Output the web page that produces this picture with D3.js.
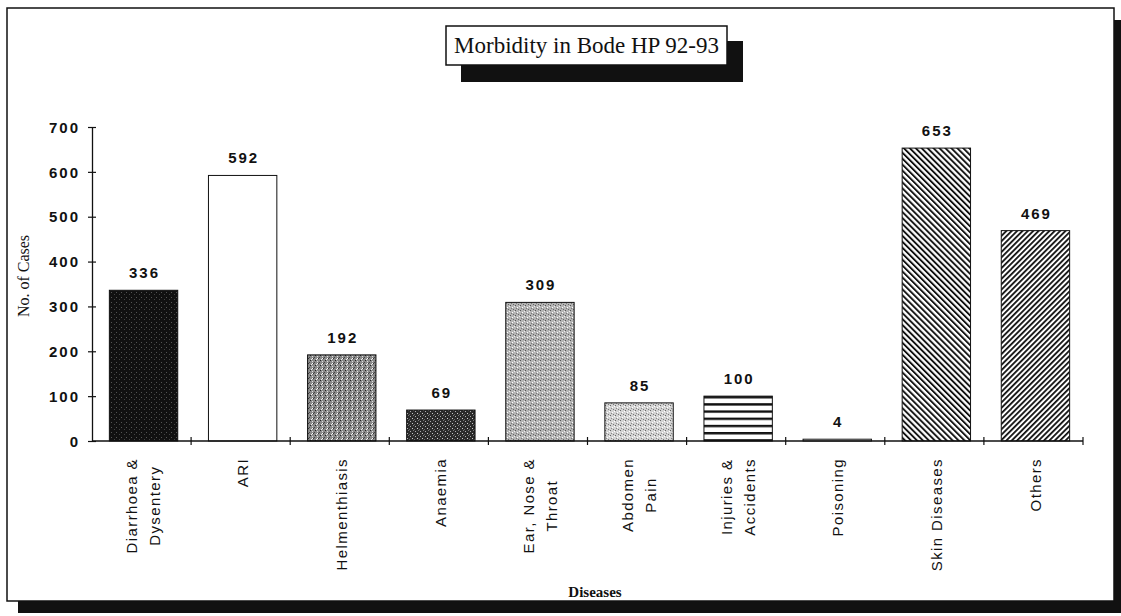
<!DOCTYPE html>
<html>
<head>
<meta charset="utf-8">
<script src="https://cdn.jsdelivr.net/npm/d3@7/dist/d3.min.js"></script>
<style>
  html, body { margin: 0; padding: 0; background: #fff; }
  svg { display: block; }
</style>
</head>
<body>
<svg id="chart" width="1121" height="616"></svg>
<script>
// ---- data ----
const categories = ["Diarrhoea & Dysentery", "ARI", "Helmenthiasis", "Anaemia", "Ear, Nose & Throat",
                    "Abdomen Pain", "Injuries & Accidents", "Poisoning", "Skin Diseases", "Others"];
const labelLines = [["Diarrhoea &", "Dysentery"], ["ARI"], ["Helmenthiasis"], ["Anaemia"], ["Ear, Nose &", "Throat"],
                    ["Abdomen", "Pain"], ["Injuries &", "Accidents"], ["Poisoning"], ["Skin Diseases"], ["Others"]];
const values = [336, 592, 192, 69, 309, 85, 100, 4, 653, 469];
const yTicks = [0, 100, 200, 300, 400, 500, 600, 700];
const title = "Morbidity in Bode HP 92-93";
const xTitle = "Diseases";
const yTitle = "No. of Cases";

// ---- styles (kept separate from data) ----
const fills = ["url(#pBlack)", "#ffffff", "url(#pDark)", "url(#pAnaemia)", "url(#pLight)",
               "url(#pLighter)", "url(#pHStripe)", "#ffffff", "url(#pBack)", "url(#pFwd)"];

const svg = d3.select("#chart");
const defs = svg.append("defs");

function stipple(id, base, dots) {
  const p = defs.append("pattern").attr("id", id).attr("patternUnits", "userSpaceOnUse")
    .attr("width", 5).attr("height", 5);
  p.append("rect").attr("width", 5).attr("height", 5).attr("fill", base);
  dots.forEach(d => p.append("rect").attr("x", d[0]).attr("y", d[1]).attr("width", 1).attr("height", 1).attr("fill", d[2]));
}
stipple("pBlack", "#111", [[1, 2, "#555"], [4, 4, "#444"]]);
stipple("pDark", "#8a8a8a", [[0, 0, "#222"], [2, 1, "#ddd"], [3, 3, "#333"], [1, 4, "#eee"], [4, 2, "#444"], [2, 3, "#fff"]]);
stipple("pAnaemia", "#2a2a2a", [[0, 1, "#aaa"], [3, 0, "#777"], [2, 3, "#ccc"], [4, 4, "#666"]]);
stipple("pLight", "#b4b4b4", [[0, 0, "#555"], [2, 2, "#fff"], [3, 4, "#666"], [4, 1, "#eee"], [1, 3, "#777"]]);
stipple("pLighter", "#d2d2d2", [[0, 0, "#666"], [2, 2, "#fff"], [3, 4, "#777"], [4, 1, "#fff"], [1, 3, "#888"]]);

const hs = defs.append("pattern").attr("id", "pHStripe").attr("patternUnits", "userSpaceOnUse")
  .attr("width", 10).attr("height", 7.2);
hs.append("rect").attr("width", 10).attr("height", 7.2).attr("fill", "#fff");
hs.append("rect").attr("y", 0).attr("width", 10).attr("height", 2.4).attr("fill", "#111");

function diag(id, angle, gap, w) {
  const p = defs.append("pattern").attr("id", id).attr("patternUnits", "userSpaceOnUse")
    .attr("width", gap).attr("height", gap).attr("patternTransform", `rotate(${angle})`);
  p.append("rect").attr("width", gap).attr("height", gap).attr("fill", "#fff");
  p.append("rect").attr("width", w).attr("height", gap).attr("fill", "#111");
}
diag("pBack", -45, 4.2, 1.9);
diag("pFwd", 45, 3.8, 1.8);

// ---- outer frame with shadow ----
svg.append("rect").attr("x", 18).attr("y", 20).attr("width", 1107).attr("height", 593).attr("fill", "#111");
svg.append("rect").attr("x", 7).attr("y", 8).attr("width", 1107).attr("height", 593)
  .attr("fill", "#fff").attr("stroke", "#111").attr("stroke-width", 1.5);

// ---- title with shadow box ----
svg.append("rect").attr("x", 461).attr("y", 41).attr("width", 282).attr("height", 41).attr("fill", "#111");
svg.append("rect").attr("x", 446).attr("y", 26).attr("width", 281).attr("height", 39)
  .attr("fill", "#fff").attr("stroke", "#111").attr("stroke-width", 1.5);
svg.append("text").attr("x", 586.5).attr("y", 53)
  .attr("text-anchor", "middle").attr("font-family", "'Liberation Serif', 'Times New Roman', serif")
  .attr("font-size", 23).attr("fill", "#111").text(title);

// ---- scales ----
const x = d3.scaleBand().domain(categories).range([92, 1083]).paddingInner(0.31).paddingOuter(0.155);
const y = d3.scaleLinear().domain([0, 700]).range([441, 127]);

// ---- bars ----
svg.append("g").selectAll("rect").data(values).join("rect")
  .attr("x", (d, i) => x(categories[i]) + 2)
  .attr("y", d => y(d))
  .attr("width", x.bandwidth())
  .attr("height", d => y(0) - y(d))
  .attr("fill", (d, i) => fills[i])
  .attr("stroke", "#111").attr("stroke-width", 1);

// ---- value labels ----
svg.append("g").selectAll("text").data(values).join("text")
  .attr("x", (d, i) => x(categories[i]) + x.bandwidth() / 2 + 3)
  .attr("y", d => y(d) - 12)
  .attr("text-anchor", "middle")
  .attr("font-family", "'Liberation Sans', Arial, sans-serif")
  .attr("font-size", 15).attr("font-weight", "bold").attr("letter-spacing", 2).attr("fill", "#111")
  .text(d => d);

// ---- y axis ----
const yAxis = d3.axisLeft(y).tickValues(yTicks).tickSize(0).tickPadding(0).tickFormat(d3.format("d"));
const gy = svg.append("g").attr("transform", "translate(92,0)").call(yAxis);
gy.select(".domain").attr("stroke", "#111").attr("stroke-width", 1.3);
gy.selectAll(".tick line").remove();
gy.selectAll(".tick").append("line").attr("x1", -4).attr("x2", 4).attr("stroke", "#111").attr("stroke-width", 1.2);
gy.selectAll(".tick text").attr("x", -12).attr("dy", "0.35em")
  .attr("font-family", "'Liberation Sans', Arial, sans-serif")
  .attr("font-size", 15).attr("font-weight", "bold").attr("letter-spacing", 2).attr("fill", "#111");

// ---- x axis ----
const gx = svg.append("g");
gx.append("line").attr("x1", 92).attr("x2", 1083).attr("y1", y(0)).attr("y2", y(0))
  .attr("stroke", "#111").attr("stroke-width", 1.3);
const bounds = categories.map((c, i) => x(c) + x.bandwidth() + x.step() * x.paddingInner() / 2);
gx.selectAll("line.tk").data(bounds).join("line").attr("class", "tk")
  .attr("x1", d => d).attr("x2", d => d).attr("y1", y(0) - 4).attr("y2", y(0) + 4)
  .attr("stroke", "#111").attr("stroke-width", 1.2);

// ---- x category labels (rotated) ----
const lblG = svg.append("g");
categories.forEach((c, i) => {
  const cx = x(c) + x.bandwidth() / 2 + 2;
  const g = lblG.append("g").attr("transform", `translate(${cx},458) rotate(-90)`);
  const lines = labelLines[i];
  const n = lines.length;
  const texts = lines.map((ln, j) => g.append("text")
    .attr("y", (j - (n - 1) / 2) * 23)
    .attr("dy", "0.35em")
    .attr("font-family", "'Liberation Sans', Arial, sans-serif")
    .attr("font-size", 15).attr("letter-spacing", 1.4).attr("fill", "#111")
    .attr("text-anchor", "middle").text(ln));
  const W = d3.max(texts, t => t.node().getComputedTextLength());
  texts.forEach(t => t.attr("x", -W / 2));
});

// ---- axis titles ----
svg.append("text").attr("x", 595).attr("y", 597).attr("text-anchor", "middle")
  .attr("font-family", "'Liberation Serif', 'Times New Roman', serif")
  .attr("font-size", 15).attr("font-weight", "bold").attr("fill", "#111").text(xTitle);
svg.append("text").attr("transform", "translate(29,276) rotate(-90)").attr("text-anchor", "middle")
  .attr("font-family", "'Liberation Serif', 'Times New Roman', serif")
  .attr("font-size", 16).attr("fill", "#111").text(yTitle);
</script>
</body>
</html>
